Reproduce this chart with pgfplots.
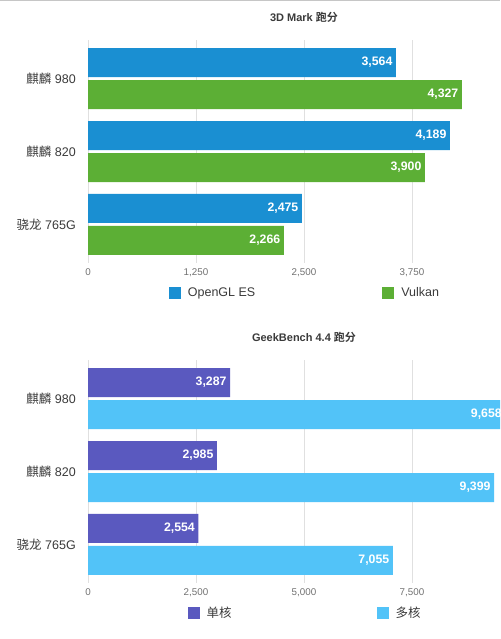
\documentclass[border=0pt]{standalone}
\usepackage{pgfplots}
\pgfplotsset{compat=1.18}
\usepackage{fontspec}
\setmainfont{Liberation Sans}
\newfontfamily\cjk{Noto Sans CJK SC}[BoldFont={Noto Sans CJK SC Bold}]
\definecolor{cOGL}{HTML}{1A8FD2}
\definecolor{cVK}{HTML}{5CAF35}
\definecolor{cSC}{HTML}{5A59BF}
\definecolor{cMC}{HTML}{52C3F8}
\definecolor{gridc}{HTML}{E0E0E0}
\definecolor{txt}{HTML}{3A3A3A}
\definecolor{tick}{HTML}{707070}

\pgfplotsset{
  sqlegend/.style={legend image code/.code={\fill[##1] (0pt,-6pt) rectangle (12pt,6pt);}},
  mystyle/.style={
    xbar, scale only axis, width=432pt, height=223pt,
    enlargelimits=false, ymin=-0.53, ymax=2.53, y dir=reverse,
    xmin=0, scaled x ticks=false,
    ytick={0,1,2},
    yticklabels={{{\cjk 麒麟} 980},{{\cjk 麒麟} 820},{{\cjk 骁龙} 765G}},
    axis line style={draw=none}, major tick length=0pt,
    xmajorgrids, major grid style={gridc, line width=0.8pt},
    /pgf/number format/1000 sep={,},
    /pgf/number format/assume math mode=true,
    yticklabel style={font=\fontsize{12.5}{14}\selectfont, text=txt, anchor=east, inner sep=0pt, xshift=-12pt},
    xticklabel style={font=\fontsize{9.8}{11}\selectfont, text=tick, yshift=-2pt},
    title style={font=\bfseries\fontsize{11}{13}\selectfont, text=txt, anchor=base, yshift=13pt},
    bar width=29pt,
    point meta=x,
    nodes near coords={\pgfmathprintnumber[1000 sep={,},assume math mode=true]{\pgfplotspointmeta}},
    every node near coord/.append style={anchor=east, text=white, font=\bfseries\fontsize{12.3}{14}\selectfont},
    legend columns=2,
    legend style={draw=none, fill=none, anchor=center, at={(0.5,-0.1345)},
      font=\fontsize{12.5}{14}\selectfont, text=txt, inner sep=0pt,
      nodes={inner sep=0pt},
      /tikz/every odd column/.append style={column sep=7pt}},
  }
}

\begin{document}
\begin{tikzpicture}
\path[use as bounding box] (0,0) rectangle (500pt,-639pt);
\clip (0,0) rectangle (500pt,-639pt);
\draw[gray!45, line width=1pt] (0,-0.5pt) -- (500pt,-0.5pt);

\begin{axis}[mystyle, at={(88pt,-263pt)}, anchor=south west,
  xmax=5000, xtick={0,1250,2500,3750},
  title={3D Mark {\cjk\bfseries 跑分}},
  legend style={/tikz/every even column/.append style={column sep=127pt}}]
\addplot[fill=cOGL, draw=none, bar shift=16pt, sqlegend] coordinates {(3564,0) (4189,1) (2475,2)};
\addplot[fill=cVK, draw=none, bar shift=-16pt, sqlegend] coordinates {(4327,0) (3900,1) (2266,2)};
\legend{OpenGL ES, Vulkan}
\end{axis}

\begin{axis}[mystyle, at={(88pt,-583pt)}, anchor=south west,
  xmax=10000, xtick={0,2500,5000,7500},
  title={GeekBench 4.4 {\cjk\bfseries 跑分}},
  legend style={font=\cjk\fontsize{12.5}{14}\selectfont, /tikz/every even column/.append style={column sep=145pt}}]
\addplot[fill=cSC, draw=none, bar shift=16pt, sqlegend] coordinates {(3287,0) (2985,1) (2554,2)};
\addplot[fill=cMC, draw=none, bar shift=-16pt, sqlegend] coordinates {(9658,0) (9399,1) (7055,2)};
\legend{单核, 多核}
\end{axis}
\end{tikzpicture}
\end{document}
